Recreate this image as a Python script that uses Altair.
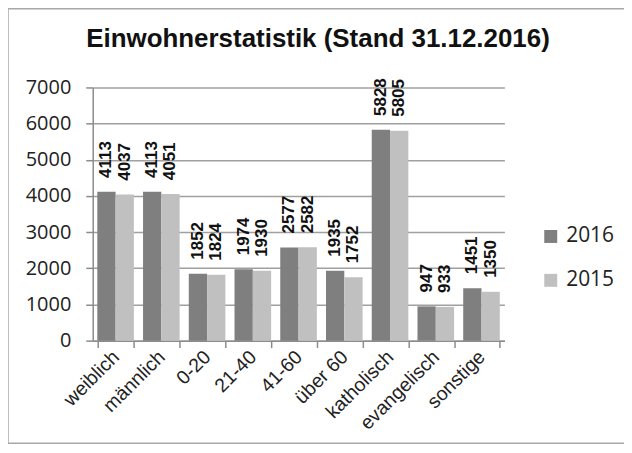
import altair as alt
import pandas as pd

title_text = "Einwohnerstatistik (Stand 31.12.2016)"
categories = ["weiblich", "männlich", "0-20", "21-40", "41-60", "über 60", "katholisch", "evangelisch", "sonstige"]
values_2016 = [4113, 4113, 1852, 1974, 2577, 1935, 5828, 947, 1451]
values_2015 = [4037, 4051, 1824, 1930, 2582, 1752, 5805, 933, 1350]
years = ["2016", "2015"]
y_ticks = [0, 1000, 2000, 3000, 4000, 5000, 6000, 7000]

rows = []
for c, a, b in zip(categories, values_2016, values_2015):
    rows.append({"Kategorie": c, "Jahr": "2016", "Wert": a})
    rows.append({"Kategorie": c, "Jahr": "2015", "Wert": b})
df = pd.DataFrame(rows)

W, H = 413, 254

x_enc = alt.X(
    "Kategorie:N", sort=categories, title=None,
    scale=alt.Scale(paddingInner=0.2, paddingOuter=0.1),
    axis=alt.Axis(labelAngle=-45, labelFont="Liberation Sans", labelFontSize=19.5,
                  labelColor="#222222", labelPadding=6, labelBaseline="middle",
                  labelAlign="right", tickBand="extent", labelOverlap=False,
                  tickSize=7, tickColor="#8c8c8c", tickWidth=1.5,
                  domainColor="#8c8c8c", domainWidth=1.5),
)
xoff = alt.XOffset("Jahr:N", sort=years)
y_enc = alt.Y(
    "Wert:Q", title=None,
    scale=alt.Scale(domain=[0, 7000], nice=False),
    axis=alt.Axis(values=y_ticks, format="d", labelOverlap=False,
                  labelFont="Open Sans", labelFontSize=20,
                  labelColor="#222222", labelPadding=15, tickSize=7,
                  tickColor="#8c8c8c", tickWidth=1.5, domainColor="#8c8c8c",
                  domainWidth=1.5, grid=True, gridColor="#a0a0a0", gridWidth=1.5),
)

base = alt.Chart(df)

bars = base.mark_bar().encode(
    x=x_enc,
    xOffset=xoff,
    y=y_enc,
    color=alt.Color(
        "Jahr:N", sort=years,
        scale=alt.Scale(domain=years, range=["#7f7f7f", "#c0c0c0"]),
        legend=alt.Legend(title=None, orient="none", legendX=449, legendY=139,
                          symbolType="square", symbolSize=169, symbolStrokeWidth=0,
                          labelFont="Open Sans", labelFontSize=21, labelColor="#222222",
                          rowPadding=22, labelOffset=5),
    ),
)

labels = base.mark_text(
    angle=270, align="left", baseline="middle", dx=14,
    font="Liberation Sans", fontSize=17, fontWeight="bold", color="#111111",
).encode(
    x=x_enc,
    xOffset=xoff,
    y=y_enc,
    text=alt.Text("Wert:Q", format="d"),
)

one = pd.DataFrame({"t": [title_text]})

border = alt.Chart(one).mark_rect(
    fill=None, stroke="#a8a8a8", strokeWidth=1.5
).encode(
    x=alt.value(-85), x2=alt.value(W + 140), y=alt.value(-79), y2=alt.value(H + 103)
)

title = alt.Chart(one).mark_text(
    font="Liberation Sans", fontSize=26, fontWeight="bold", color="#111111",
    align="center", baseline="alphabetic",
).encode(
    x=alt.value(226), y=alt.value(-41), text="t:N"
)

chart = alt.layer(border, bars, labels, title).properties(
    width=W, height=H,
    autosize=alt.AutoSizeParams(type="none"),
    padding={"left": 85, "top": 79, "right": 120, "bottom": 104},
).configure_view(stroke=None)

chart.save("out.html", embed_options={"renderer": "svg", "actions": False})
